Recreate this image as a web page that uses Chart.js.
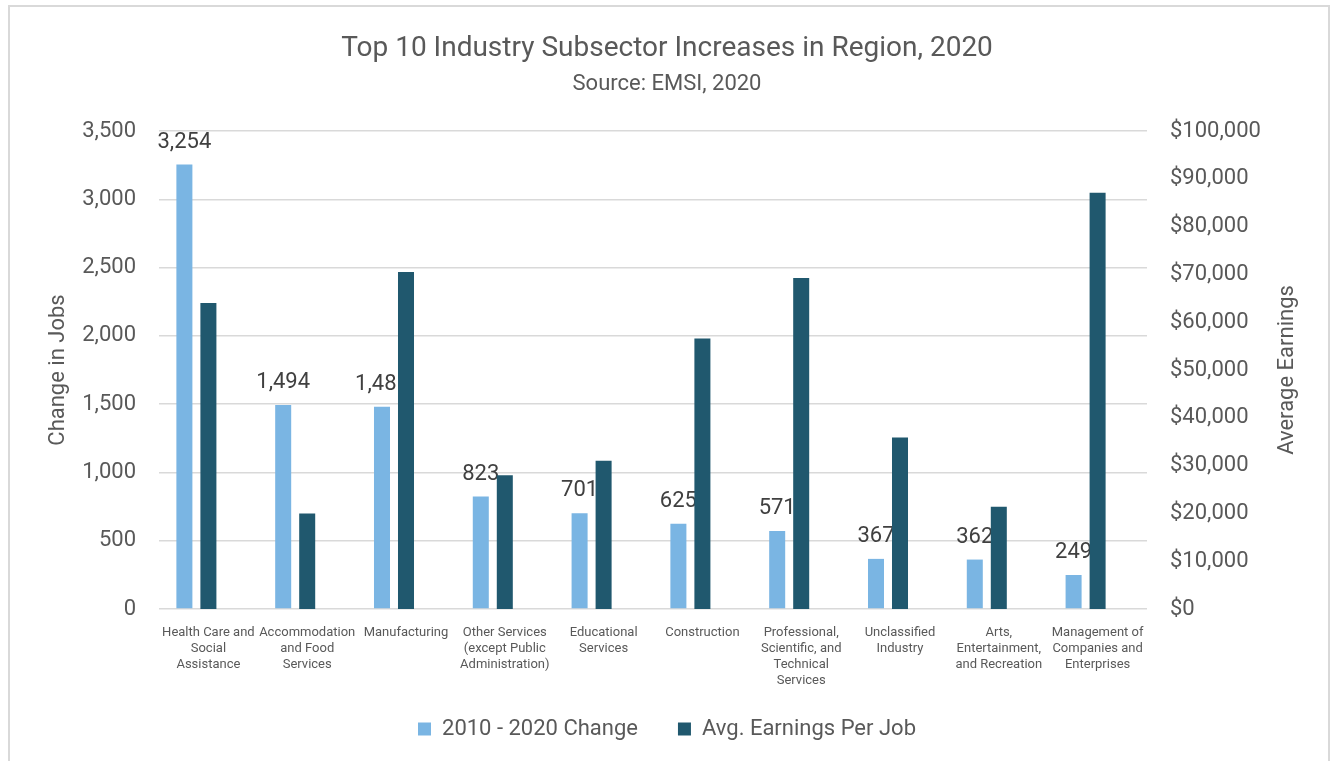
<!DOCTYPE html>
<html>
<head>
<meta charset="utf-8">
<script src="https://cdn.jsdelivr.net/npm/chart.js@4"></script>
<style>
  html, body { margin: 0; padding: 0; background: #fff; overflow: hidden; }
  #frame { position: absolute; left: 8px; top: 5px; width: 1322px; height: 800px; border: 2px solid #d9d9d9; box-sizing: border-box; }
  #wrap { position: absolute; left: 0; top: 0; width: 1334px; height: 761px; }
</style>
</head>
<body>
<div id="frame"></div>
<div id="wrap"><canvas id="chart" width="1334" height="761"></canvas></div>
<script>
const categories = [
    ['Health Care and', 'Social', 'Assistance'],
    ['Accommodation', 'and Food', 'Services'],
    ['Manufacturing'],
    ['Other Services', '(except Public', 'Administration)'],
    ['Educational', 'Services'],
    ['Construction'],
    ['Professional,', 'Scientific, and', 'Technical', 'Services'],
    ['Unclassified', 'Industry'],
    ['Arts,', 'Entertainment,', 'and Recreation'],
    ['Management of', 'Companies and', 'Enterprises']
];
const jobChange = [3254, 1494, 1481, 823, 701, 625, 571, 367, 362, 249];
const avgEarnings = [64000, 20000, 70500, 28000, 31000, 56600, 69250, 35900, 21400, 87100];
const spacer = [null, null, null, null, null, null, null, null, null, null];

const textColor = '#595959';
const gridColor = '#d9d9d9';
const lightBlue = '#7ab5e3';
const darkTeal = '#20586e';
const fontFamily = 'Roboto, "Noto Sans", sans-serif';

// value labels over the light bars, drawn before the dark bars so they sit underneath
const barLabels = {
    id: 'barLabels',
    beforeDatasetDraw(chart, args) {
        if (args.index !== 1) return;
        const ctx = chart.ctx;
        const meta = chart.getDatasetMeta(0);
        ctx.save();
        ctx.font = '22px ' + fontFamily;
        ctx.fillStyle = '#404040';
        ctx.textAlign = 'center';
        ctx.textBaseline = 'alphabetic';
        meta.data.forEach((bar, i) => {
            ctx.fillText(jobChange[i].toLocaleString('en-US'), bar.x, bar.y - 17);
        });
        ctx.restore();
    }
};

// right axis title reads bottom-to-top like the left one
const rightTitle = {
    id: 'rightTitle',
    afterDraw(chart) {
        const scale = chart.scales.y1;
        const ctx = chart.ctx;
        const area = chart.chartArea;
        ctx.save();
        ctx.translate(scale.right - 37, (area.top + area.bottom) / 2);
        ctx.rotate(-Math.PI / 2);
        ctx.font = '22px ' + fontFamily;
        ctx.fillStyle = textColor;
        ctx.textAlign = 'center';
        ctx.textBaseline = 'middle';
        ctx.fillText('Average Earnings', 0, 0);
        ctx.restore();
    }
};

new Chart(document.getElementById('chart'), {
    type: 'bar',
    data: {
        labels: categories,
        datasets: [
            { label: '2010 - 2020 Change', data: jobChange, backgroundColor: lightBlue, yAxisID: 'y' },
            { label: 'Avg. Earnings Per Job', data: avgEarnings, backgroundColor: darkTeal, yAxisID: 'y1' },
            { label: '', data: spacer, backgroundColor: 'rgba(0,0,0,0)', yAxisID: 'y' }
        ]
    },
    options: {
        responsive: false,
        animation: false,
        categoryPercentage: 0.729,
        barPercentage: 0.667,
        layout: { padding: { left: 10, right: 10, top: 0, bottom: 11 } },
        plugins: {
            title: {
                display: true,
                text: 'Top 10 Industry Subsector Increases in Region, 2020',
                color: textColor,
                font: { family: fontFamily, size: 28, weight: 'normal', lineHeight: 1.2 },
                padding: { top: 32, bottom: 6 }
            },
            subtitle: {
                display: true,
                text: 'Source: EMSI, 2020',
                color: textColor,
                font: { family: fontFamily, size: 22, weight: 'normal', lineHeight: 1.2 },
                padding: { top: 0, bottom: 33 }
            },
            legend: {
                position: 'bottom',
                labels: {
                    color: textColor,
                    font: { family: fontFamily, size: 22 },
                    boxWidth: 13,
                    boxHeight: 13,
                    padding: 40,
                    filter: item => item.text !== ''
                }
            },
            tooltip: { enabled: false }
        },
        scales: {
            x: {
                grid: { display: false, drawTicks: false },
                border: { display: false },
                ticks: {
                    color: textColor,
                    font: { family: fontFamily, size: 13, lineHeight: 16 / 13 },
                    padding: 16,
                    maxRotation: 0,
                    autoSkip: false
                },
                afterFit(scale) {
                    scale.height = 69;
                    // let the 4-line labels run into the empty top of the legend box
                    scale._computeLabelArea = () => undefined;
                }
            },
            y: {
                position: 'left',
                min: 0,
                max: 3500,
                ticks: {
                    stepSize: 500,
                    color: textColor,
                    font: { family: fontFamily, size: 22 },
                    padding: 23,
                    callback: v => v.toLocaleString('en-US')
                },
                grid: { color: gridColor, lineWidth: 1.5, drawTicks: false },
                border: { display: false },
                title: {
                    display: true,
                    text: 'Change in Jobs',
                    color: textColor,
                    font: { family: fontFamily, size: 22, lineHeight: 1.2 },
                    padding: { top: 35, bottom: 0 }
                },
                afterFit(scale) { scale.width = 149; }
            },
            y1: {
                position: 'right',
                min: 0,
                max: 100000,
                ticks: {
                    stepSize: 10000,
                    color: textColor,
                    font: { family: fontFamily, size: 22 },
                    padding: 23,
                    callback: v => '$' + v.toLocaleString('en-US')
                },
                grid: { display: false, drawTicks: false },
                border: { display: false },
                afterFit(scale) { scale.width = 177; }
            }
        }
    },
    plugins: [barLabels, rightTitle]
});
</script>
</body>
</html>
